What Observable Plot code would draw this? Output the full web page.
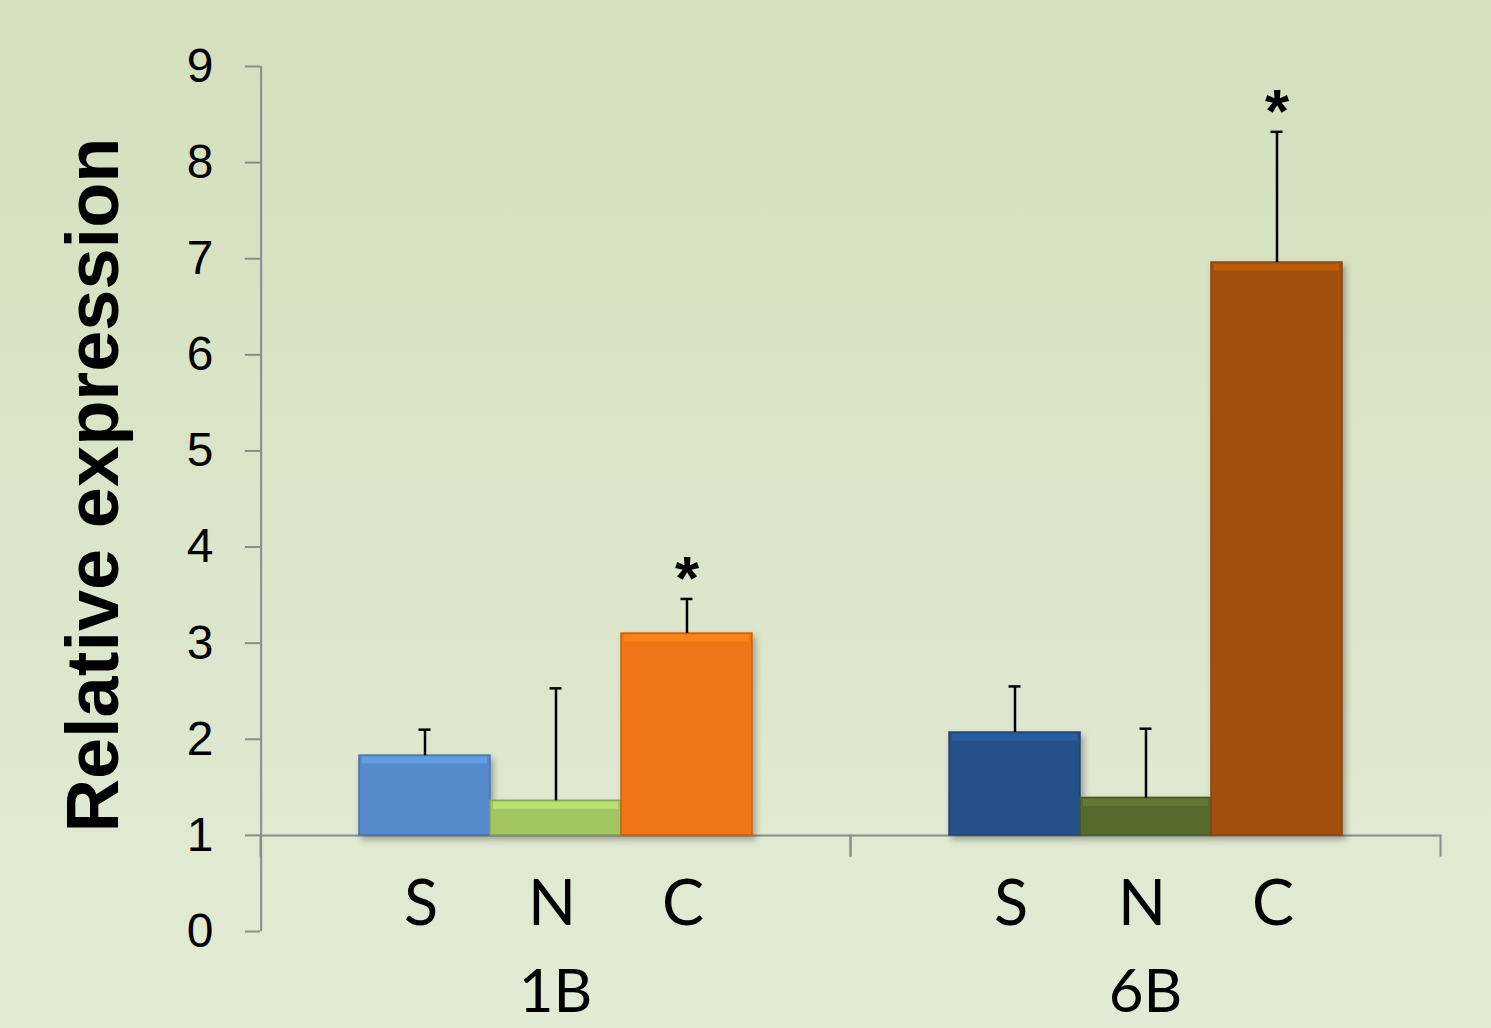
<!DOCTYPE html>
<html>
<head>
<meta charset="utf-8">
<script src="https://cdn.jsdelivr.net/npm/d3@7"></script>
<script src="https://cdn.jsdelivr.net/npm/@observablehq/plot@0.6"></script>
<style>
  html, body { margin: 0; padding: 0; }
  body {
    width: 1491px; height: 1028px; overflow: hidden;
    background: linear-gradient(to bottom, #d3dfbd 0%, #dbe5c9 50%, #e3ebd6 100%);
  }
</style>
</head>
<body>
<div id="chart"></div>
<script>
// ---- data ----
const groups = ["1B", "6B"];
const conditions = ["S", "N", "C"];
const values1B = [1.83, 1.36, 3.10];
const values6B = [2.07, 1.39, 6.96];
const errors1B = [0.27, 1.17, 0.36];
const errors6B = [0.48, 0.72, 1.36];
const significant1B = [false, false, true];
const significant6B = [false, false, true];
const yTicks = [0, 1, 2, 3, 4, 5, 6, 7, 8, 9];
const yDomain = [0, 9];
const baseline = 1;
const yLabel = "Relative expression";

// palette (styles kept separate from values)
const palette1B = ["#5589c9", "#a3c664", "#f07414"];
const palette6B = ["#255188", "#566b2f", "#a34f0d"];

const valueSets = [values1B, values6B];
const errorSets = [errors1B, errors6B];
const sigSets = [significant1B, significant6B];
const paletteSets = [palette1B, palette6B];

const rows = [];
groups.forEach((g, gi) => conditions.forEach((c, ci) => rows.push({
  group: g, cond: c, value: valueSets[gi][ci], err: errorSets[gi][ci],
  sig: sigSets[gi][ci], color: paletteSets[gi][ci]
})));

// layout
const W = 1491, H = 1028, mL = 260, mR = 51, mT = 66, mB = 97;
const padOuter = 0.75;
const facetW = (W - mL - mR) / groups.length;
const step = facetW / (conditions.length + 2 * padOuter);

const axisGray = "#8c8c8c";
const darkerOf = d => d3.color(d.color).darker(0.5).formatHex();
const brighterOf = d => d3.color(d.color).brighter(0.6).formatHex();
const errTop = d => d.value + d.err;

const chart = Plot.plot({
  width: W,
  height: H,
  marginLeft: mL,
  marginRight: mR,
  marginTop: mT,
  marginBottom: mB,
  style: { background: "transparent", fontFamily: "'Liberation Sans', Arial, sans-serif", color: "black", overflow: "visible" },
  fx: { domain: groups, padding: 0, label: null },
  x: { domain: conditions, paddingInner: 0, paddingOuter: padOuter, align: 0.5, label: null },
  y: { domain: yDomain, label: null },
  color: { type: "identity" },
  marks: [
    Plot.ruleY([baseline], { stroke: axisGray, strokeWidth: 2 }),
    // y axis line (left edge of the first facet)
    Plot.ruleX([{ group: groups[0] }], { fx: "group", x: () => conditions[0], y1: yDomain[0], y2: yDomain[1], dx: -(padOuter + 0.5) * step, stroke: axisGray, strokeWidth: 2 }),
    // group separator ticks below the baseline
    Plot.frame({ anchor: "left", insetTop: 769, insetBottom: 76, stroke: axisGray, strokeWidth: 2 }),
    Plot.frame({ anchor: "right", insetTop: 769, insetBottom: 76, stroke: axisGray, strokeWidth: 2 }),
    Plot.axisY({ ticks: yTicks, tickSize: 15, tickPadding: 32, fontSize: 48, stroke: axisGray, strokeWidth: 2, fill: "black", label: null }),
    Plot.axisX({ anchor: "bottom", tickSize: 0, tickPadding: 0, dy: -51, dx: -4, fontSize: 63, fontFamily: "Lato, 'Open Sans', sans-serif", fill: "black", label: null }),
    Plot.axisFx({ anchor: "bottom", tickSize: 0, tickPadding: 38, fontSize: 60, fontFamily: "Lato, 'Open Sans', sans-serif", fill: "black", label: null }),
    Plot.text([{ group: groups[0], t: yLabel }], {
      fx: "group", text: "t", frameAnchor: "left", textAnchor: "middle", rotate: -90, dx: -166, dy: -14,
      fontSize: 74, fontWeight: "bold", lineAnchor: "middle", fill: "black"
    }),
    Plot.barY(rows, { fx: "group", x: "cond", y1: baseline, y2: "value", fill: "color", stroke: darkerOf, strokeWidth: 1.5 }),
    Plot.tickY(rows, { fx: "group", x: "cond", y: "value", stroke: brighterOf, strokeWidth: 7, dy: 4.5, insetLeft: 3, insetRight: 3, strokeOpacity: 0.6 }),
    Plot.ruleX(rows, { fx: "group", x: "cond", y1: "value", y2: errTop, stroke: "black", strokeWidth: 2.5 }),
    Plot.tickY(rows, { fx: "group", x: "cond", y: errTop, stroke: "black", strokeWidth: 2.5, insetLeft: 59.5, insetRight: 59.5 }),
    Plot.text(rows.filter(d => d.sig), { fx: "group", x: "cond", y: errTop, text: () => "*", fontSize: 62, fontWeight: "bold", lineAnchor: "middle", dy: -20, fill: "black" })
  ]
});

// soft drop shadow on bars
const svg = d3.select(chart);
const defs = svg.insert("defs", ":first-child");
const f = defs.append("filter").attr("id", "barShadow").attr("x", "-10%").attr("y", "-10%").attr("width", "130%").attr("height", "130%");
f.append("feDropShadow").attr("dx", 3).attr("dy", 4).attr("stdDeviation", 3).attr("flood-color", "#000").attr("flood-opacity", 0.3);
svg.selectAll('g[aria-label="bar"]').attr("filter", "url(#barShadow)");

document.getElementById("chart").appendChild(chart);
</script>
</body>
</html>
